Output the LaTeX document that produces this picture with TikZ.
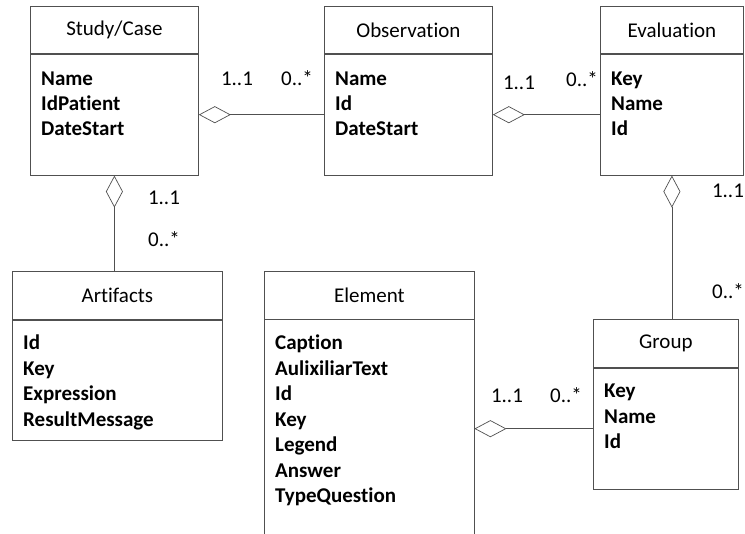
\documentclass[tikz,border=0pt]{standalone}
\usepackage{fontspec}
\setmainfont{Carlito}[Ligatures=NoCommon]
\usetikzlibrary{arrows.meta,positioning}
\definecolor{umlline}{RGB}{80,80,80}

\begin{document}
\begin{tikzpicture}[x=1pt,y=1pt,
    every node/.style={font=\fontsize{21}{25}\selectfont},
    classhead/.style={draw=umlline,line width=0.8pt,minimum height=47pt,inner sep=0pt,anchor=north west},
    classbody/.style={draw=umlline,line width=0.8pt,inner sep=0pt,anchor=north west},
    attr/.style={anchor=base west,inner sep=0pt,font=\fontsize{21}{25}\selectfont\bfseries},
    mult/.style={anchor=base,inner sep=0pt},
    aggr/.style={draw=umlline,line width=0.7pt,{Diamond[open,length=32pt,width=17pt]}-}]
        \useasboundingbox (0,0) rectangle (745,-534);
        % classes
        \node[classhead,minimum width=168pt] (studyhead) at (30,-6) {Study/Case};
        \node[classbody,minimum width=168pt,minimum height=121pt] (study) at (studyhead.south west) {};
        \foreach \a [count=\i from 0] in {Name,IdPatient,DateStart}
          \node[attr] at ([xshift=11pt,yshift={-(32+\i*25)*1pt}]study.north west) {\a};

        \node[classhead,minimum width=168pt] (observationhead) at (324,-6) {Observation};
        \node[classbody,minimum width=168pt,minimum height=121pt] (observation) at (observationhead.south west) {};
        \foreach \a [count=\i from 0] in {Name,Id,DateStart}
          \node[attr] at ([xshift=11pt,yshift={-(32+\i*25)*1pt}]observation.north west) {\a};

        \node[classhead,minimum width=143pt] (evaluationhead) at (600,-6) {Evaluation};
        \node[classbody,minimum width=143pt,minimum height=121pt] (evaluation) at (evaluationhead.south west) {};
        \foreach \a [count=\i from 0] in {Key,Name,Id}
          \node[attr] at ([xshift=11pt,yshift={-(32+\i*25)*1pt}]evaluation.north west) {\a};

        \node[classhead,minimum width=210pt,minimum height=48pt] (artifactshead) at (12,-271) {Artifacts};
        \node[classbody,minimum width=210pt,minimum height=120pt] (artifacts) at (artifactshead.south west) {};
        \foreach \a [count=\i from 0] in {Id,Key,Expression,ResultMessage}
          \node[attr] at ([xshift=11pt,yshift={-(30+\i*25.5)*1pt}]artifacts.north west) {\a};

        \node[classhead,minimum width=210pt,minimum height=48pt] (elementhead) at (264,-271) {Element};
        \node[inner sep=0pt,anchor=north west,minimum width=210pt,minimum height=215pt] (element) at (elementhead.south west) {};
        \draw[umlline,line width=0.8pt] (element.north west) -- (element.south west)
          (element.north east) -- (element.south east);
        \foreach \a [count=\i from 0] in {Caption,AulixiliarText,Id,Key,Legend,Answer,TypeQuestion}
          \node[attr] at ([xshift=11pt,yshift={-(30+\i*25.5)*1pt}]element.north west) {\a};

        \node[classhead,minimum width=145pt,minimum height=48pt] (grouphead) at (593,-319) {Group};
        \node[classbody,minimum width=145pt,minimum height=121pt] (group) at (grouphead.south west) {};
        \foreach \a [count=\i from 0] in {Key,Name,Id}
          \node[attr] at ([xshift=11pt,yshift={-(30+\i*25.5)*1pt}]group.north west) {\a};

        % aggregations
        \draw[aggr] (study.east) -- (study.east -| observation.west);
        \draw[aggr] (observation.east) -- (observation.east -| evaluation.west);
        \draw[aggr] (study.south) -- (study.south |- artifactshead.north);
        \draw[aggr] (evaluation.south) -- (evaluation.south |- grouphead.north);
        \draw[aggr] (element.east |- group.west) -- (group.west);

        % multiplicities
        \node[mult] (m1) at (237,-86) {1..1};
        \node[mult] (m2) at (297,-86) {0..*};
        \node[mult] (m3) at (519,-90) {1..1};
        \node[mult] (m4) at (582,-87) {0..*};
        \node[mult] (m5) at (164,-205) {1..1};
        \node[mult] (m6) at (164,-247) {0..*};
        \node[mult] (m7) at (728,-198) {1..1};
        \node[mult] (m8) at (728,-299) {0..*};
        \node[mult] (m9) at (507,-403) {1..1};
        \node[mult] (m10) at (566,-403) {0..*};
      \end{tikzpicture}
\end{document}
